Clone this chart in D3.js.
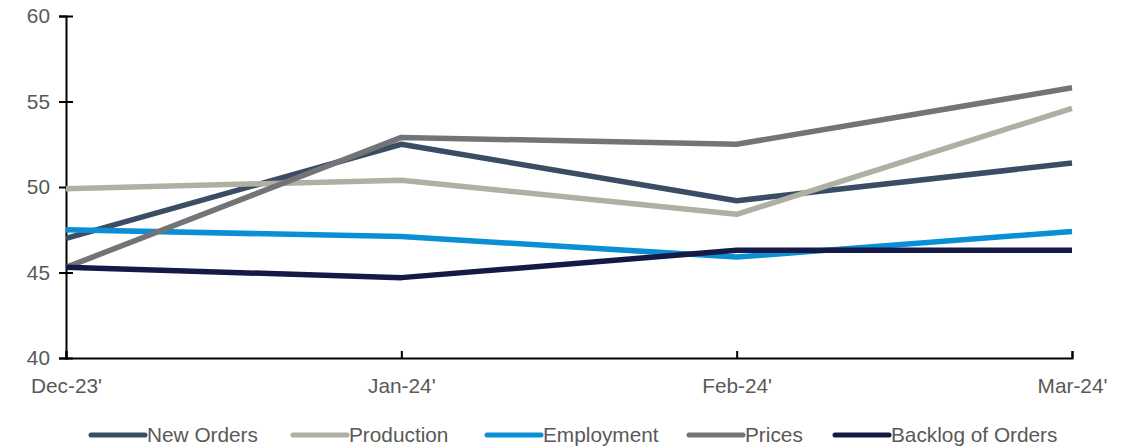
<!DOCTYPE html>
<html><head><meta charset="utf-8">
<script src="https://cdn.jsdelivr.net/npm/d3@7"></script>
<style>body{margin:0;background:#fff;} text{font-family:"Liberation Sans",Arial,sans-serif;}</style>
</head><body><svg id="c" width="1135" height="448"></svg>
<script>
const categories = ["Dec-23'", "Jan-24'", "Feb-24'", "Mar-24'"];
const seriesNames = ["New Orders", "Production", "Employment", "Prices", "Backlog of Orders"];
const newOrders = [47.0, 52.5, 49.2, 51.4];
const production = [49.9, 50.4, 48.4, 54.6];
const employment = [47.5, 47.1, 45.9, 47.4];
const prices = [45.3, 52.9, 52.5, 55.8];
const backlog = [45.3, 44.7, 46.3, 46.3];
const yTicks = [40, 45, 50, 55, 60];
const colors = ["#3a4d65", "#b0afa3", "#0a8fd4", "#737478", "#141a45"];

const series = [newOrders, production, employment, prices, backlog];
const svg = d3.select("#c");
const x = d3.scalePoint().domain(categories).range([66, 1072]);
const y = d3.scaleLinear().domain([40, 60]).range([358, 16]);
const fs = 20.8;

const yAxis = svg.append("g").attr("transform", "translate(66,0)")
  .call(d3.axisLeft(y).tickValues(yTicks).tickSize(7).tickPadding(12));
yAxis.select(".domain").attr("stroke", "#000").attr("stroke-width", 2);
yAxis.selectAll(".tick line").attr("stroke", "#000").attr("stroke-width", 2).attr("x2", 7).attr("x1", -7);
yAxis.selectAll("text").attr("fill", "#595959").attr("font-size", fs).attr("font-family", "Liberation Sans, Arial, sans-serif").attr("dx", 3);

const xAxis = svg.append("g").attr("transform", "translate(0,358)")
  .call(d3.axisBottom(x).tickSize(-7).tickPadding(20));
xAxis.select(".domain").attr("stroke", "#000").attr("stroke-width", 2);
xAxis.selectAll(".tick line").attr("stroke", "#000").attr("stroke-width", 2);
xAxis.selectAll("text").attr("fill", "#595959").attr("font-size", fs).attr("font-family", "Liberation Sans, Arial, sans-serif");

const line = d3.line().x((d, i) => x(categories[i])).y(d => y(d));
series.forEach((s, k) => {
  svg.append("path").datum(s).attr("d", line).attr("fill", "none")
    .attr("stroke", colors[k]).attr("stroke-width", 5.5).attr("stroke-linejoin", "round");
});

const legendX = [88, 290, 484, 686, 832];
const lg = svg.append("g");
seriesNames.forEach((n, k) => {
  lg.append("line").attr("x1", legendX[k] + 3).attr("x2", legendX[k] + 57).attr("y1", 435).attr("y2", 435)
    .attr("stroke", colors[k]).attr("stroke-width", 5).attr("stroke-linecap", "round");
  lg.append("text").attr("x", legendX[k] + 59).attr("y", 442).text(n)
    .attr("fill", "#595959").attr("font-size", fs);
});
</script></body></html>
